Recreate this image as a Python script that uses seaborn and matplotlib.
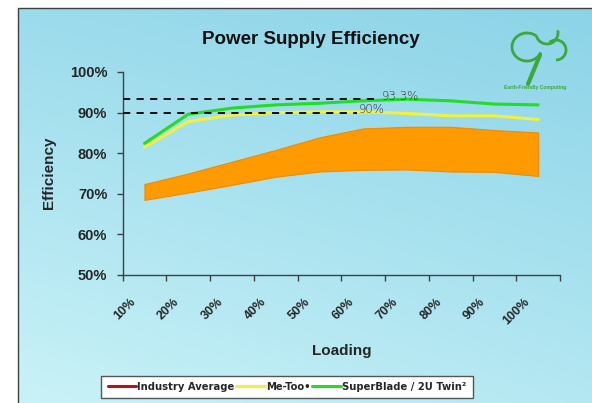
import numpy as np
import pandas as pd
import matplotlib
matplotlib.use("Agg")
import matplotlib.pyplot as plt
import seaborn as sns
from matplotlib import font_manager
from matplotlib.font_manager import FontProperties
from matplotlib.lines import Line2D
from matplotlib.patches import Rectangle, Arc
from matplotlib.transforms import ScaledTranslation

# data
loading = ['10%', '20%', '30%', '40%', '50%', '60%', '70%', '80%', '90%', '100%']
superblade = [82.4, 89.6, 91.1, 91.9, 92.3, 92.9, 93.3, 92.9, 92.1, 91.9]
metoo = [81.5, 87.8, 89.4, 90.0, 90.2, 90.2, 89.8, 89.2, 89.2, 88.3]
industry_low = [68.5, 70.3, 72.2, 74.2, 75.5, 75.9, 76.0, 75.5, 75.4, 74.4]
industry_high = [72.4, 75.0, 77.9, 80.8, 83.9, 86.1, 86.5, 86.5, 85.7, 85.1]
ref_levels = [93.3, 90.0]
ref_labels = ['93.3%', '90%']
ref_ends = [5.38, 4.85]
y_ticks = [50, 60, 70, 80, 90, 100]

sns.set_theme(style="ticks")
plt.rcParams['font.family'] = ['Liberation Sans', 'DejaVu Sans']

# condensed bold face for the legend, if one is installed
narrow_file = None
for f in font_manager.fontManager.ttflist:
    low = f.fname.lower()
    if ('narrow' in low or 'condensed' in low) and f.weight in (700, 'bold') and 'oblique' not in low \
            and 'italic' not in low and 'serif' not in low and 'mono' not in low:
        narrow_file = f.fname
        break
if narrow_file:
    leg_prop = FontProperties(fname=narrow_file, size=8.0)
else:
    leg_prop = FontProperties(family='Liberation Sans', weight='bold', size=7.6)

df = pd.DataFrame({'x': np.arange(len(loading)), 'SuperBlade': superblade, 'MeToo': metoo})

fig = plt.figure(figsize=(5.92, 4.03), dpi=100)
fig.patch.set_facecolor('white')

# gradient background panel
bg = fig.add_axes([18 / 592, 0, 1 - 18 / 592, 1 - 8 / 403])
gx, gy = np.meshgrid(np.linspace(0, 1, 200), np.linspace(0, 1, 150))
t = np.clip(0.75 * gy + 0.35 * gx - 0.1 * gy * gx, 0, 1)
light = np.array([0.79, 0.95, 0.97])
dark = np.array([0.55, 0.83, 0.91])
img = light[None, None, :] * (1 - t[..., None]) + dark[None, None, :] * t[..., None]
bg.imshow(img, origin='lower', aspect='auto', extent=[0, 1, 0, 1])
bg.set_axis_off()
fig.patches.append(Rectangle((18 / 592, -0.1), 1.2, 1.1 - 8 / 403, transform=fig.transFigure,
                             fill=False, edgecolor='#404040', linewidth=1.0, zorder=5))

ax = fig.add_axes([122.6 / 592, 1 - 275 / 403, (560 - 122.6) / 592, 203 / 403])
ax.set_facecolor('none')

ax.fill_between(df['x'], industry_low, industry_high, color='#ff9a00', linewidth=0.8,
                edgecolor='#f08a00', zorder=2)
sns.lineplot(data=df, x='x', y='MeToo', color='#f2f23c', linewidth=2.2, ax=ax, zorder=3)
sns.lineplot(data=df, x='x', y='SuperBlade', color='#22dd22', linewidth=2.2, ax=ax, zorder=4)

for lvl, lab, end in zip(ref_levels, ref_labels, ref_ends):
    ax.plot([-0.5, end], [lvl, lvl], color='black', linestyle=(0, (4, 3.5)), linewidth=1.3, zorder=5)
    ax.text(end + 0.05, lvl + 0.8, lab, fontsize=8.5, color='#333333', va='center', ha='left',
            family=['DejaVu Sans'], fontweight='light', zorder=6)

ax.set_xlim(-0.5, len(loading) - 0.5)
ax.set_ylim(50, 100)
ax.set_yticks(y_ticks)
ax.set_yticklabels([f'{v}%' for v in y_ticks], fontsize=10.5, fontweight='bold')
ax.set_xticks(df['x'])
ax.set_xticks(np.arange(-0.5, len(loading)), minor=True)
ax.set_xticklabels(loading, rotation=45, ha='right', rotation_mode='anchor',
                   fontsize=9, fontweight='bold')
ax.tick_params(axis='x', which='major', length=0, pad=15)
ax.tick_params(axis='x', which='minor', length=4, width=1, color='#404040')
ax.tick_params(axis='y', length=4, width=1, color='#404040', pad=7)
offset = ScaledTranslation(-15 / 100, 0, fig.dpi_scale_trans)
for lbl in ax.get_xticklabels():
    lbl.set_transform(lbl.get_transform() + offset)
for side in ['top', 'right']:
    ax.spines[side].set_visible(False)
for side in ['left', 'bottom']:
    ax.spines[side].set_color('#404040')
    ax.spines[side].set_linewidth(1.0)

ax.set_xlabel('Loading', fontsize=11, fontweight='bold', labelpad=12)
ax.set_ylabel('')
fig.text(49 / 592, 1 - 173 / 403, 'Efficiency', rotation=90, fontsize=11, fontweight='bold',
         ha='center', va='center')
fig.text(311 / 592, 1 - 40 / 403, 'Power Supply Efficiency', fontsize=13.5, fontweight='bold',
         ha='center', va='center', color='#111111')

# logo
green = '#3aa83a'
fig.text(535 / 592, 1 - 88 / 403, 'Earth-Friendly Computing', fontsize=3.6, color=green,
         fontweight='bold', ha='center', va='center')
pix = fig.transFigure
for cx, cy, w, h, t1, t2 in [(527, 47, 30, 28, 60, 330), (547, 33, 22, 22, 200, 20),
                             (556, 50, 20, 20, 270, 120)]:
    fig.patches.append(Arc((cx / 592, 1 - cy / 403), w / 592, h / 403, theta1=t1, theta2=t2,
                           transform=pix, color=green, linewidth=2))
fig.lines.append(Line2D([540 / 592, 528 / 592], [1 - 55 / 403, 1 - 84 / 403], transform=pix,
                        color=green, linewidth=3))

handles = [Line2D([], [], color='#b01818', linewidth=2.2),
           Line2D([], [], color='#f2f23c', linewidth=2.2),
           Line2D([], [], color='#22dd22', linewidth=2.2)]
leg = fig.legend(handles, ['Industry Average', 'Me-Too\u2022', 'SuperBlade / 2U Twin\u00b2'],
                 loc='center', bbox_to_anchor=(287 / 592, 1 - 387 / 403), ncol=3,
                 frameon=True, fancybox=False, handlelength=2.6, handletextpad=0.08,
                 columnspacing=0.15, borderpad=0.55, borderaxespad=0, prop=leg_prop)
leg.get_frame().set_edgecolor('#555555')
leg.get_frame().set_linewidth(1.0)
leg.get_frame().set_facecolor('white')
leg.get_frame().set_alpha(1)

fig.savefig('out.png', dpi=100)
